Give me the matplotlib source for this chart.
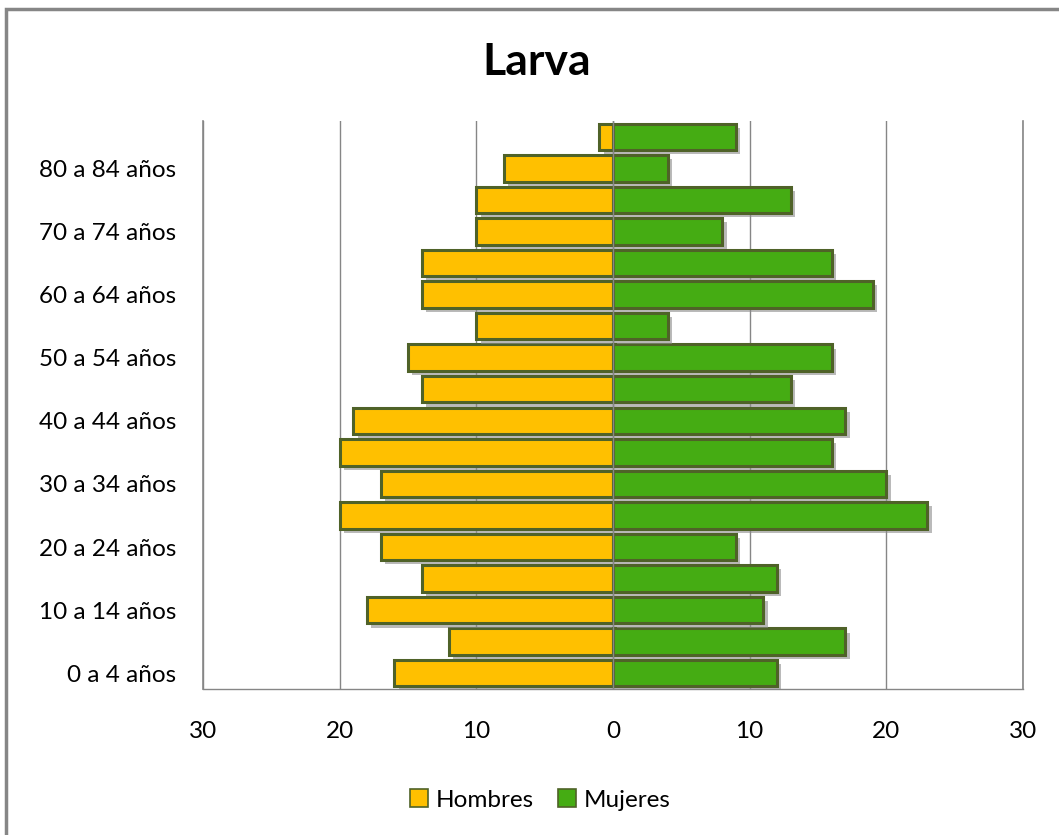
import numpy as np
import matplotlib
matplotlib.use("Agg")
import matplotlib.pyplot as plt
import matplotlib.patheffects as pe
from matplotlib.patches import Rectangle

plt.rcParams['font.family'] = ['Lato', 'DejaVu Sans']

# age groups, bottom to top
grupos = ["0 a 4 años", "5 a 9 años", "10 a 14 años", "15 a 19 años",
          "20 a 24 años", "25 a 29 años", "30 a 34 años", "35 a 39 años",
          "40 a 44 años", "45 a 49 años", "50 a 54 años", "55 a 59 años",
          "60 a 64 años", "65 a 69 años", "70 a 74 años", "75 a 79 años",
          "80 a 84 años", "85 y más"]
hombres = [16, 12, 18, 14, 17, 20, 17, 20, 19, 14, 15, 10, 14, 14, 10, 10, 8, 1]
mujeres = [12, 17, 11, 12, 9, 23, 20, 16, 17, 13, 16, 4, 19, 16, 8, 13, 4, 9]
xticks = [-30, -20, -10, 0, 10, 20, 30]

fig = plt.figure(figsize=(10.59, 8.35), dpi=100)
ax = fig.add_axes([203/1059, 1 - 689/835, 820/1059, 568/835])

y = np.arange(len(grupos))
shadow = [pe.SimplePatchShadow(offset=(3, -3), shadow_rgbFace="0.55", alpha=0.6), pe.Normal()]
bh = ax.barh(y, [-v for v in hombres], height=0.84, color="#FFC000",
             edgecolor="#4F6228", linewidth=2.2, label="Hombres", zorder=3)
bm = ax.barh(y, mujeres, height=0.84, color="#45AC13",
             edgecolor="#4F6228", linewidth=2.2, label="Mujeres", zorder=3)
for b in list(bh) + list(bm):
    b.set_path_effects(shadow)

ax.set_xlim(-30, 30)
ax.set_ylim(-0.5, len(grupos) - 0.5)
ax.set_xticks(xticks)
ax.set_xticklabels([str(abs(t)) for t in xticks], fontsize=17.5)
ax.set_yticks(y[::2])
ax.set_yticklabels(grupos[::2], fontsize=17.5)
ax.tick_params(length=0)
ax.tick_params(axis="y", pad=19)
ax.tick_params(axis="x", pad=23)
ax.xaxis.grid(True, color="#868686", linewidth=1.0, zorder=0)
ax.axvline(0, color="#868686", linewidth=1.0, zorder=4)
for xv in (-30, 30):
    ax.axvline(xv, color="#868686", linewidth=1.2, zorder=1, clip_on=False)
for s in ["top", "left", "right"]:
    ax.spines[s].set_visible(False)
ax.spines["bottom"].set_color("#868686")
ax.spines["bottom"].set_linewidth(1.0)

fig.text(537/1059, 1 - 62/835, "Larva", fontsize=32, fontweight="bold",
         ha="center", va="center")

leg = fig.legend(handles=[bh, bm], loc="center", bbox_to_anchor=(540/1059, 1 - 800/835),
                 ncol=2, frameon=False, fontsize=17.5, handlelength=0.75, handleheight=0.75,
                 handletextpad=0.3, columnspacing=1.0)
for h in leg.legend_handles:
    h.set_linewidth(1.2)
    h.set_path_effects([])

fig.patches.append(Rectangle((6/1059, -0.05), 1.1, 1 - 9/835 + 0.05,
                             transform=fig.transFigure, fill=False,
                             edgecolor="#868686", linewidth=2.5))

fig.savefig("out.png", dpi=100)
